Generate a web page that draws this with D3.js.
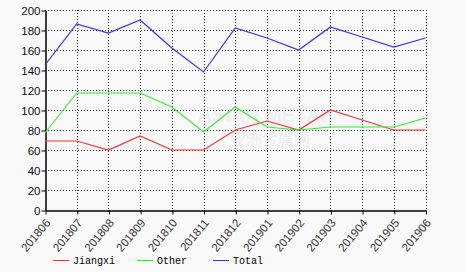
<!DOCTYPE html>
<html><head><meta charset="utf-8">
<script src="https://cdn.jsdelivr.net/npm/d3@7"></script>
<style>
html,body{margin:0;padding:0;background:#f9f9f9;}
svg{display:block;}
</style></head>
<body>
<svg id="c" width="466" height="272"></svg>
<script>
const categories = ["201806","201807","201808","201809","201810","201811","201812","201901","201902","201903","201904","201905","201906"];
const jiangxi = [69,69,60,74,60,60,80,89,80,100,90,80,80];
const other   = [77,117,117,117,103,78,103,83,80,83,83,83,92];
const total   = [145,186,177,190,162,138,182,172,160,183,173,163,172];
const yTicks  = [0,20,40,60,80,100,120,140,160,180,200];
const seriesNames = ["Jiangxi","Other","Total"];
const seriesColors = ["#ff3333","#33ee33","#3333ff"];

const svg = d3.select("#c");
const L = 45, R = 425.5, T = 10, B = 210;
const x = d3.scalePoint().domain(categories).range([L, R]);
const y = d3.scaleLinear().domain([0, 200]).range([B, T]);

// watermark
svg.append("text").attr("x", 265).attr("y", 122).attr("text-anchor","middle")
  .attr("font-family","Liberation Sans, Arial").attr("font-size",20).attr("font-weight","bold")
  .attr("fill","#000").attr("opacity",0.04).text("ASIAN METAL");
svg.append("text").attr("x", 270).attr("y", 145).attr("text-anchor","middle")
  .attr("font-family","Noto Sans CJK SC").attr("font-size",16)
  .attr("fill","#000").attr("opacity",0.05).text("亚洲金属网");

// grid
const grid = svg.append("g").attr("stroke","#333").attr("stroke-width",1).attr("stroke-dasharray","1,2");
yTicks.filter(v => v > 0).forEach(v => {
  grid.append("line").attr("x1", L).attr("x2", R).attr("y1", Math.round(y(v))+0.5).attr("y2", Math.round(y(v))+0.5);
});
categories.slice(1).forEach(c => {
  const xx = Math.round(x(c)) + 0.5;
  grid.append("line").attr("x1", xx).attr("x2", xx).attr("y1", T).attr("y2", B);
});

// axes
const yAxis = svg.append("g").attr("transform", `translate(${L+0.5},0.5)`)
  .call(d3.axisLeft(y).tickValues(yTicks).tickSize(4).tickSizeOuter(0));
yAxis.select(".domain").attr("stroke","#000").attr("stroke-width",1.5);
yAxis.selectAll(".tick line").attr("stroke","#000");
yAxis.selectAll(".tick text").attr("font-family","Liberation Sans, Arial").attr("font-size",11.5).attr("fill","#111").attr("x",-5);

const xAxis = svg.append("g").attr("transform", `translate(0.5,${B+0.5})`)
  .call(d3.axisBottom(x).tickSize(4).tickSizeOuter(0));
xAxis.select(".domain").attr("stroke","#000").attr("stroke-width",1.5);
xAxis.selectAll(".tick line").attr("stroke","#000");
xAxis.selectAll(".tick text").attr("font-family","Liberation Sans, Arial").attr("font-size",11.5).attr("fill","#333")
  .attr("text-anchor","end").attr("x",0).attr("y",0).attr("dy","0.35em")
  .attr("transform","translate(2,10) rotate(-50)");

// lines
const data = [jiangxi, other, total];
const line = d3.line().x((d,i) => x(categories[i])).y(d => y(d));
data.forEach((s, k) => {
  svg.append("path").datum(s).attr("d", line).attr("fill","none")
    .attr("stroke", seriesColors[k]).attr("stroke-width",1.2);
});

// legend
const legX = [53, 137, 213];
seriesNames.forEach((n, k) => {
  const g = svg.append("g").attr("transform", `translate(${legX[k]},260)`);
  g.append("line").attr("x1",0).attr("x2",16).attr("y1",0.5).attr("y2",0.5).attr("stroke",seriesColors[k]).attr("stroke-width",1);
  g.append("text").attr("x",20).attr("y",4).attr("font-family","Liberation Mono, DejaVu Sans Mono, monospace")
    .attr("font-size",10).attr("fill","#000").text(n);
});
</script>
</body></html>
